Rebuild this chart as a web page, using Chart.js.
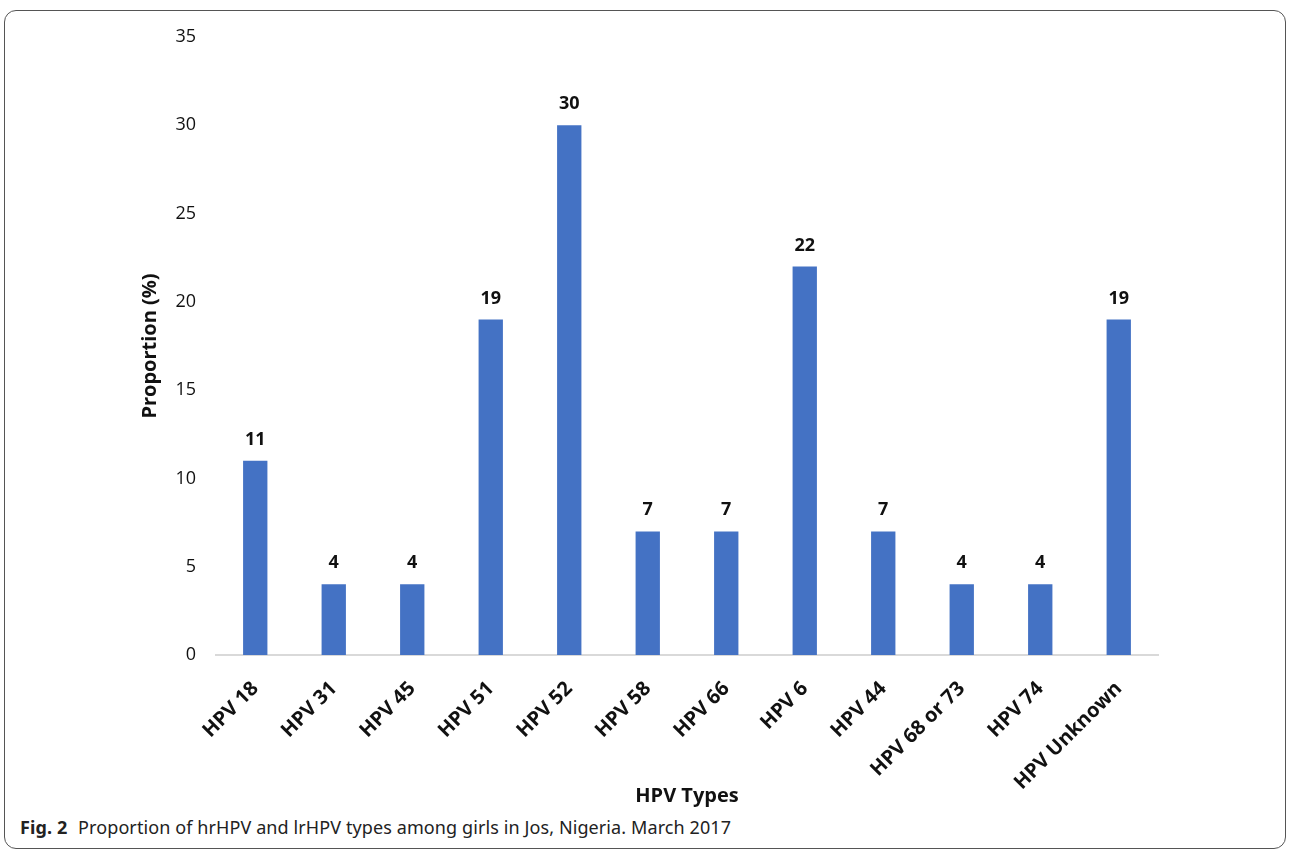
<!DOCTYPE html>
<html>
<head>
<meta charset="utf-8">
<script src="https://cdn.jsdelivr.net/npm/chart.js@4.4.1/dist/chart.umd.min.js"></script>
<style>
  html, body { margin: 0; padding: 0; background: #fff; }
  body { width: 1290px; height: 850px; position: relative; overflow: hidden; }
  #frame {
    position: absolute; left: 4px; top: 10px; width: 1282px; height: 839px;
    border: 1.5px solid #555; border-radius: 12px; box-sizing: border-box;
  }
  #wrap { position: absolute; left: 0; top: 0; width: 1290px; height: 812px; }
  #caption {
    position: absolute; left: 20px; top: 815px;
    font-family: "Noto Sans", sans-serif; font-size: 18px; color: #222;
    white-space: nowrap; letter-spacing: 0.1px;
  }
  #caption b { margin-right: 6px; }
</style>
</head>
<body>
<div id="frame"></div>
<div id="wrap"><canvas id="myChart"></canvas></div>
<div id="caption"><b>Fig. 2</b> Proportion of hrHPV and lrHPV types among girls in Jos, Nigeria. March 2017</div>
<script>
var ctx = document.getElementById("myChart").getContext('2d');

const labels = ["HPV 18", "HPV 31", "HPV 45", "HPV 51", "HPV 52", "HPV 58", "HPV 66",
                "HPV 6", "HPV 44", "HPV 68 or 73", "HPV 74", "HPV Unknown"];
const dataValue = [11, 4, 4, 19, 30, 7, 7, 22, 7, 4, 4, 19];

// value labels above each bar
const barValues = {
  id: 'barValues',
  afterDatasetsDraw(chart) {
    const c = chart.ctx;
    const meta = chart.getDatasetMeta(0);
    c.save();
    c.font = 'bold 18px "Open Sans"';
    c.fillStyle = '#111';
    c.textAlign = 'center';
    c.textBaseline = 'alphabetic';
    meta.data.forEach((bar, i) => {
      c.fillText(chart.data.datasets[0].data[i], bar.x, bar.y - 16);
    });
    c.restore();
  }
};

const data = {
  labels: labels,
  datasets: [{
    label: 'Proportion',
    data: dataValue,
    backgroundColor: '#4472C4',
    borderWidth: 0,
    barPercentage: 0.31,
    categoryPercentage: 1.0
  }]
};

const config = {
  type: 'bar',
  data,
  plugins: [barValues],
  options: {
    responsive: true,
    maintainAspectRatio: false,
    animation: false,
    layout: { padding: { left: 138, top: 37, right: 132, bottom: 0 } },
    plugins: { legend: { display: false }, tooltip: { enabled: false } },
    scales: {
      x: {
        grid: { display: false, drawTicks: false },
        border: { color: '#d9d9d9', width: 2 },
        ticks: {
          autoSkip: false, minRotation: 45, maxRotation: 45, padding: 22,
          color: '#111', font: { family: 'Open Sans', size: 20, weight: 'bold' }
        },
        title: {
          display: true, text: 'HPV Types', color: '#111',
          font: { family: 'Open Sans', size: 20, weight: 'bold' },
          padding: { top: 0, bottom: 4 }
        },
        afterFit(scale) { scale.height = 157; }
      },
      y: {
        min: 0, max: 35,
        grid: { display: false, drawTicks: false },
        border: { display: false },
        ticks: {
          stepSize: 5, padding: 20,
          color: '#111', font: { family: 'Open Sans', size: 18 }
        },
        title: {
          display: true, text: 'Proportion (%)', color: '#111',
          font: { family: 'Open Sans', size: 20, weight: 'bold' },
          padding: 0
        },
        afterFit(scale) { scale.width = 78; }
      }
    }
  }
};

var myChart = new Chart(ctx, config);
</script>
</body>
</html>
